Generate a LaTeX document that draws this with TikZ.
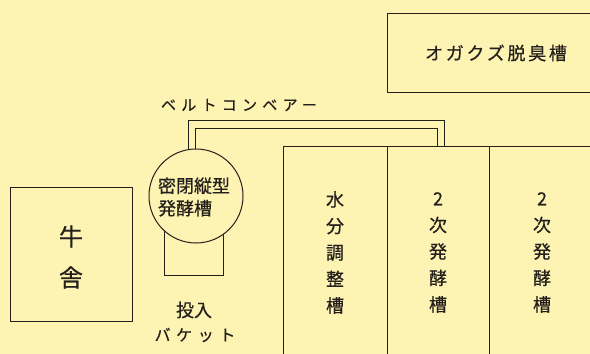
\documentclass[tikz,border=0pt]{standalone}
\usepackage{fontspec}
\setmainfont{Noto Sans CJK JP}[FakeBold=0.5]
\newfontfamily\jpwide{Noto Sans CJK JP}[LetterSpace=35,FakeBold=0.5]
\newfontfamily\jpmid{Noto Sans CJK JP}[LetterSpace=15,FakeBold=0.5]
\usetikzlibrary{calc}
\definecolor{bg}{RGB}{253,243,178}
\definecolor{ink}{RGB}{35,32,28}
\tikzset{
  box/.style={draw=ink, line width=1pt, rectangle, inner sep=0pt},
  lbl/.style={text=ink, inner sep=0pt, align=center},
  col/.style={lbl, font=\fontsize{18}{26.5}\selectfont},
}
\begin{document}
\begin{tikzpicture}[x=1pt,y=-1pt]
\fill[bg] (0,0) rectangle (590,354);
\useasboundingbox (0,0) rectangle (590,354);
\begin{scope}
\clip (0,0) rectangle (590,354);
% cow shed
\node[box, minimum width=122pt, minimum height=134pt] (cow) at (71,254) {};
\node[lbl, font=\fontsize{24}{41}\selectfont] (cowt) at (71,257) {牛\\舎};
% deodorizing tank
\node[box, minimum width=220pt, minimum height=79pt, anchor=north west] (deo) at (387,13) {};
\node[lbl, font=\fontsize{18}{22}\selectfont\jpmid] (deot) at (496,53) {オガクズ脱臭槽};
% tanks
\node[box, minimum width=104pt, minimum height=220pt, anchor=north west] (tank1) at (283,146) {};
\node[box, minimum width=102pt, minimum height=220pt, anchor=north west] (tank2) at (387,146) {};
\node[box, minimum width=120pt, minimum height=220pt, anchor=north west] (tank3) at (489,146) {};
\node[col] (t1) at (335,252.5) {水\\分\\調\\整\\槽};
\node[col] (t2) at (438,252.5) {2\\次\\発\\酵\\槽};
\node[col] (t3) at (542,252.5) {2\\次\\発\\酵\\槽};
% bucket and fermenter
\node[box, minimum width=59pt, minimum height=50pt, anchor=south west] (bucket) at (164,276) {};
\node[draw=ink, line width=1pt, fill=bg, circle, minimum size=94pt, inner sep=0pt] (mixer) at (196,196) {};
\node[lbl, align=left, font=\fontsize{18}{22.5}\selectfont] (mixt) at (194,197) {密閉縦型\\発酵槽};
\node[lbl, font=\fontsize{18}{20}\selectfont] (tounyu) at (194,310) {投入};
\node[lbl, font=\fontsize{16}{18}\selectfont\jpwide] (bucketl) at (195,335) {バケット};
% belt conveyor
\coordinate (co) at (444,120);
\coordinate (ci) at (437,128);
\draw[ink, line width=1pt] (mixer.99) |- (co) -- (co |- tank2.north);
\draw[ink, line width=1pt] (mixer.91) |- (ci) -- (ci |- tank2.north);
\node[lbl, font=\fontsize{15}{18}\selectfont\jpwide] (belt) at (239,105) {ベルトコンベアー};
\end{scope}
\end{tikzpicture}
\end{document}
